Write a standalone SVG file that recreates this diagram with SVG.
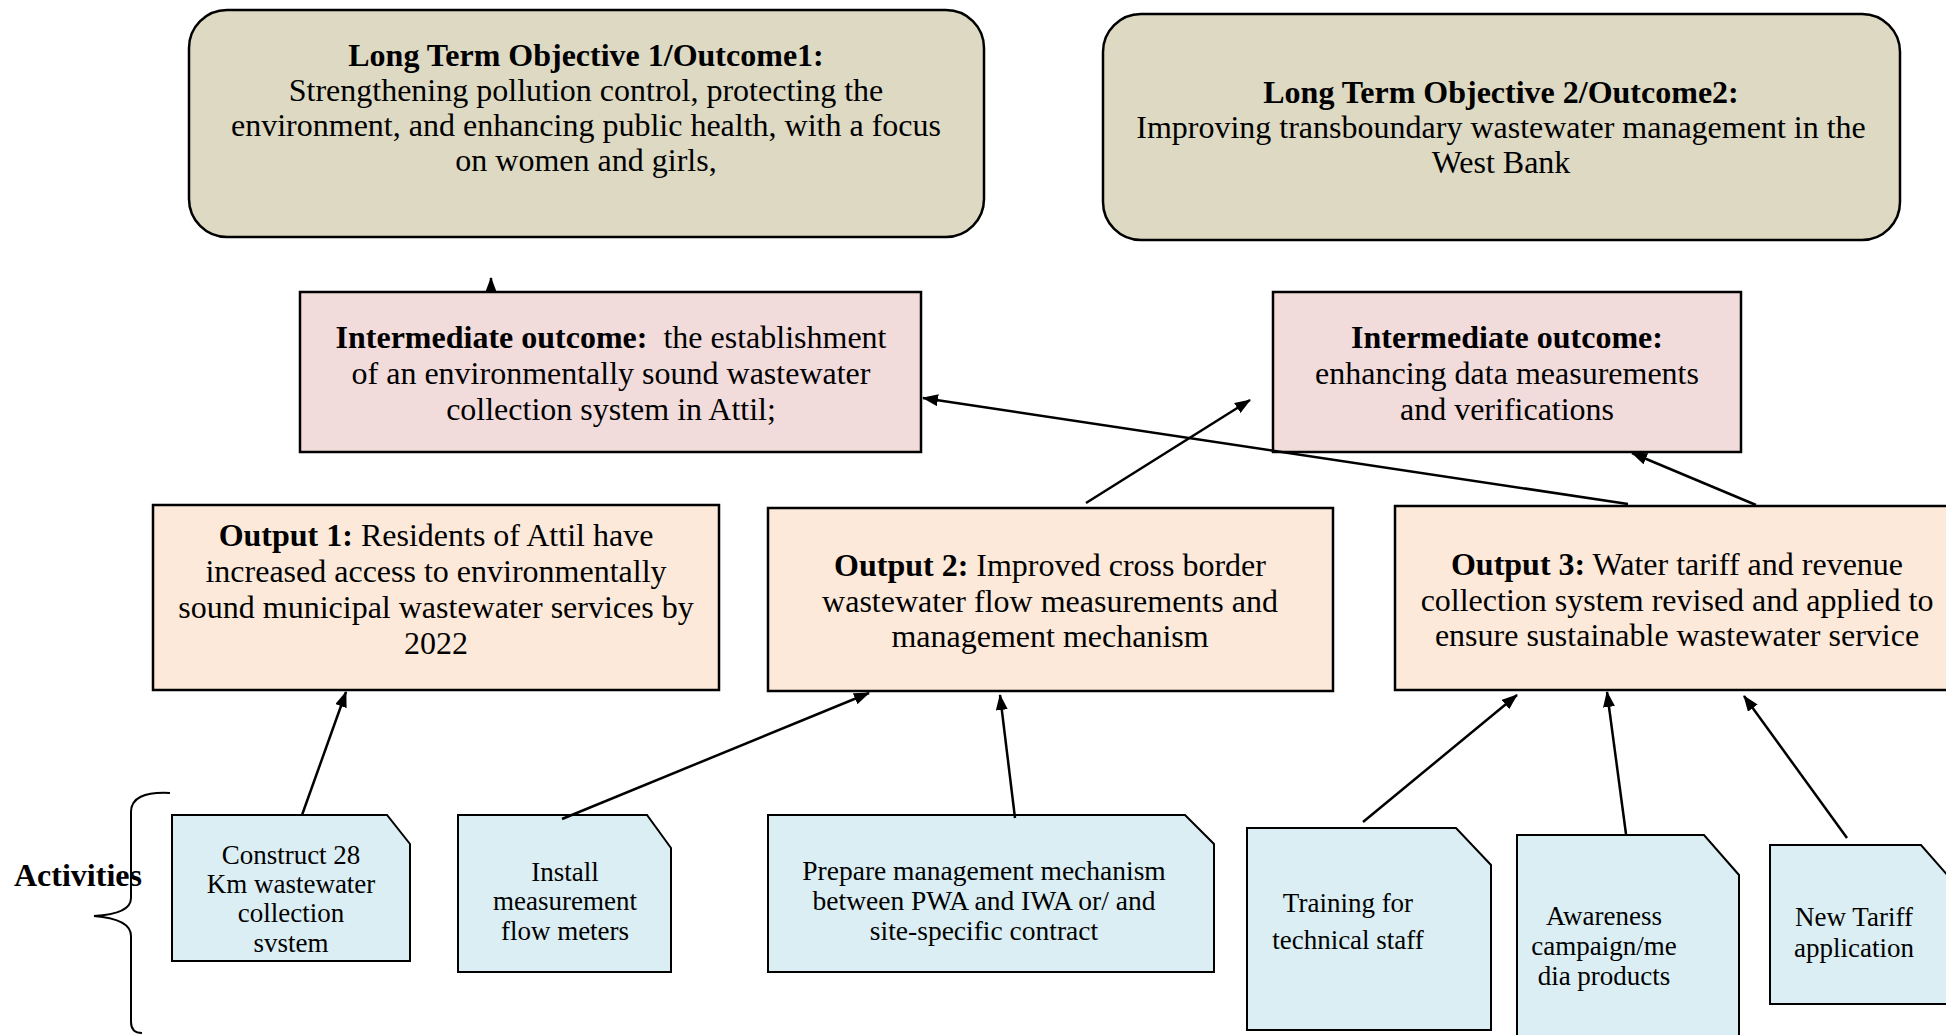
<svg xmlns="http://www.w3.org/2000/svg" width="1946" height="1035" viewBox="0 0 1946 1035">
<style>
text{font-family:"Liberation Serif","Times New Roman",serif;fill:#000}
.m{font-size:32px}
.a{font-size:27px}
.b{font-weight:bold}
.lt{fill:#ddd9c3;stroke:#000;stroke-width:2.5}
.io{fill:#f2dcdb;stroke:#000;stroke-width:2.5}
.op{fill:#fde9d9;stroke:#000;stroke-width:2.5}
.ac{fill:#daeef3;stroke:#000;stroke-width:2}
.c{fill:none;stroke:#000;stroke-width:2.5}
</style>
<defs>
<marker id="ah" markerUnits="userSpaceOnUse" markerWidth="16" markerHeight="12" refX="15" refY="6" orient="auto">
<path d="M0,0 L16,6 L0,12 z" fill="#000"/>
</marker>
</defs>

<g id="lt1">
<rect class="lt" x="189" y="10" width="795" height="227" rx="38"/>
<text class="m" text-anchor="middle" x="586"><tspan class="b" x="586" y="66">Long Term Objective 1/Outcome1:</tspan><tspan x="586" y="101">Strengthening pollution control, protecting the</tspan><tspan x="586" y="136">environment, and enhancing public health, with a focus</tspan><tspan x="586" y="171">on women and girls,</tspan></text>
</g>

<g id="lt2">
<rect class="lt" x="1103" y="14" width="797" height="226" rx="38"/>
<text class="m" text-anchor="middle"><tspan class="b" x="1501" y="103">Long Term Objective 2/Outcome2:</tspan><tspan x="1501" y="138">Improving transboundary wastewater management in the</tspan><tspan x="1501" y="173">West Bank</tspan></text>
</g>

<g id="io1">
<rect class="io" x="300" y="292" width="621" height="160"/>
<text class="m" text-anchor="middle"><tspan x="611" y="348"><tspan class="b">Intermediate outcome:</tspan><tspan dx="16">the establishment</tspan></tspan><tspan x="611" y="384">of an environmentally sound wastewater</tspan><tspan x="611" y="420">collection system in Attil;</tspan></text>
</g>

<g id="io2">
<rect class="io" x="1273" y="292" width="468" height="160"/>
<text class="m" text-anchor="middle"><tspan class="b" x="1507" y="348">Intermediate outcome:</tspan><tspan x="1507" y="384">enhancing data measurements</tspan><tspan x="1507" y="420">and verifications</tspan></text>
</g>

<g id="out1">
<rect class="op" x="153" y="505" width="566" height="185"/>
<text class="m" text-anchor="middle"><tspan x="436" y="546"><tspan class="b">Output 1:</tspan> Residents of Attil have</tspan><tspan x="436" y="582">increased access to environmentally</tspan><tspan x="436" y="618">sound municipal wastewater services by</tspan><tspan x="436" y="654">2022</tspan></text>
</g>

<g id="out2">
<rect class="op" x="768" y="508" width="565" height="183"/>
<text class="m" text-anchor="middle"><tspan x="1050" y="576"><tspan class="b">Output 2:</tspan> Improved cross border</tspan><tspan x="1050" y="612">wastewater flow measurements and</tspan><tspan x="1050" y="647">management mechanism</tspan></text>
</g>

<g id="out3">
<rect class="op" x="1395" y="506" width="570" height="184"/>
<text class="m" text-anchor="middle"><tspan x="1677" y="575"><tspan class="b">Output 3:</tspan> Water tariff and revenue</tspan><tspan x="1677" y="611">collection system revised and applied to</tspan><tspan x="1677" y="646">ensure sustainable wastewater service</tspan></text>
</g>

<g id="activities-label">
<text class="b" x="14" y="886" style="font-size:32px">Activities</text>
<path class="c" style="stroke-width:2" d="M170,793 Q131,791 131,812 L131,898 Q131,914 94,916 Q131,919 131,936 L131,1022 Q131,1033 142,1033"/>
</g>

<g id="act1">
<path class="ac" d="M172,815 L387,815 L410,844 L410,961 L172,961 Z"/>
<text class="a" text-anchor="middle"><tspan x="291" y="864">Construct 28</tspan><tspan x="291" y="893">Km wastewater</tspan><tspan x="291" y="922">collection</tspan><tspan x="291" y="952">svstem</tspan></text>
</g>

<g id="act2">
<path class="ac" d="M458,815 L647,815 L671,848 L671,972 L458,972 Z"/>
<text class="a" text-anchor="middle"><tspan x="565" y="881">Install</tspan><tspan x="565" y="910">measurement</tspan><tspan x="565" y="940">flow meters</tspan></text>
</g>

<g id="act3">
<path class="ac" d="M768,815 L1185,815 L1214,844 L1214,972 L768,972 Z"/>
<text class="a" text-anchor="middle" style="font-size:27.5px"><tspan x="984" y="880">Prepare management mechanism</tspan><tspan x="984" y="910">between PWA and IWA or/ and</tspan><tspan x="984" y="940">site-specific contract</tspan></text>
</g>

<g id="act4">
<path class="ac" d="M1247,828 L1456,828 L1491,865 L1491,1030 L1247,1030 Z"/>
<text class="a" text-anchor="middle"><tspan x="1348" y="912">Training for</tspan><tspan x="1348" y="949">technical staff</tspan></text>
</g>

<g id="act5">
<path class="ac" d="M1517,1040 L1517,835 L1704,835 L1739,875 L1739,1040"/>
<text class="a" text-anchor="middle"><tspan x="1604" y="925">Awareness</tspan><tspan x="1604" y="955">campaign/me</tspan><tspan x="1604" y="985">dia products</tspan></text>
</g>

<g id="act6">
<path class="ac" d="M1770,845 L1921,845 L1956,885 L1956,1004 L1770,1004 Z"/>
<text class="a" text-anchor="middle"><tspan x="1854" y="926">New Tariff</tspan><tspan x="1854" y="957">application</tspan></text>
</g>

<g id="connectors">
<line class="c" x1="491" y1="292" x2="491" y2="278" marker-end="url(#ah)"/>
<line class="c" x1="1628" y1="504" x2="923" y2="398" marker-end="url(#ah)"/>
<line class="c" x1="1086" y1="503" x2="1250" y2="400" marker-end="url(#ah)"/>
<line class="c" x1="1756" y1="505" x2="1632" y2="453" marker-end="url(#ah)"/>
<line class="c" x1="302" y1="815" x2="346" y2="692" marker-end="url(#ah)"/>
<line class="c" x1="562" y1="819" x2="869" y2="693" marker-end="url(#ah)"/>
<line class="c" x1="1015" y1="818" x2="1000" y2="695" marker-end="url(#ah)"/>
<line class="c" x1="1363" y1="822" x2="1517" y2="695" marker-end="url(#ah)"/>
<line class="c" x1="1626" y1="834" x2="1607" y2="692" marker-end="url(#ah)"/>
<line class="c" x1="1847" y1="838" x2="1744" y2="696" marker-end="url(#ah)"/>
</g>
</svg>
